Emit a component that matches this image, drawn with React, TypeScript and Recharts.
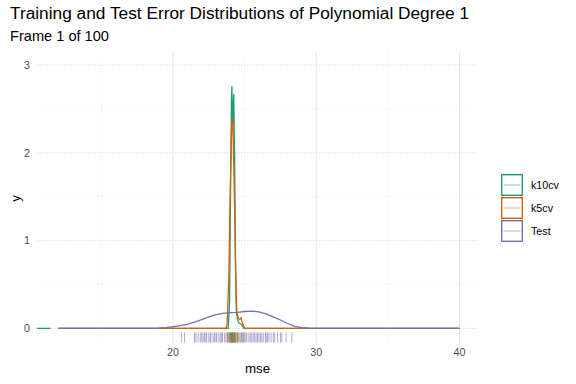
import React from "react";
import {
  ComposedChart,
  Line,
  Scatter,
  XAxis,
  YAxis,
  ReferenceLine,
  Legend,
} from "recharts";

// density curves: [mse, density]
const k10cvDensity: [number, number | null][] = [
  [10.5, 0], [11.45, 0], [11.5, null], [12, 0], [23.85, 0], [23.95, 0.3],
  [24.02, 1.6], [24.08, 2.6], [24.11, 2.76], [24.16, 2.3], [24.2, 2.45],
  [24.24, 2.67], [24.3, 2.0], [24.36, 0.8], [24.42, 0.2], [24.5, 0.1],
  [24.6, 0.06], [24.75, 0.05], [24.85, 0.03], [24.95, 0], [40, 0],
];

const k5cvDensity: [number, number][] = [
  [12, 0], [23.7, 0], [23.78, 0.05], [23.9, 0.6], [24.0, 1.6], [24.1, 2.3],
  [24.15, 2.41], [24.2, 2.2], [24.3, 1.4], [24.38, 0.6], [24.45, 0.2],
  [24.55, 0.12], [24.65, 0.1], [24.75, 0.12], [24.85, 0.06], [25.0, 0], [40, 0],
];

const testDensity: [number, number][] = [
  [12, 0], [18.5, 0], [19, 0.002], [19.5, 0.008], [20, 0.018], [20.5, 0.03],
  [21, 0.045], [21.5, 0.07], [22, 0.1], [22.5, 0.13], [23, 0.155],
  [23.5, 0.17], [24, 0.178], [24.5, 0.183], [25, 0.192], [25.5, 0.197],
  [26, 0.188], [26.5, 0.165], [27, 0.13], [27.5, 0.095], [28, 0.055],
  [28.5, 0.022], [29, 0.008], [29.5, 0.002], [30, 0], [40, 0],
];

// rug values (individual mse observations)
const testRug = [
  20.6, 20.8, 21.5, 21.6, 21.75, 21.9, 22.0, 22.1, 22.2, 22.3, 22.35, 22.5,
  22.6, 22.65, 22.8, 22.9, 23.0, 23.05, 23.2, 23.3, 23.4, 23.45, 23.6, 23.7,
  23.8, 23.9, 24.0, 24.1, 24.2, 24.3, 24.4, 24.5, 24.6, 24.7, 24.8, 24.9,
  25.0, 25.1, 25.15, 25.3, 25.4, 25.5, 25.6, 25.7, 25.8, 25.9, 26.0, 26.1,
  26.2, 26.3, 26.45, 26.5, 26.6, 26.7, 26.85, 27.0, 27.1, 27.3, 27.5, 27.6,
  27.9, 28.3,
];
const k10cvRug = [23.9, 24.0, 24.05, 24.1, 24.12, 24.15, 24.2, 24.25, 24.3, 24.35, 24.5, 24.8];
const k5cvRug = [23.8, 23.95, 24.05, 24.1, 24.15, 24.2, 24.3, 24.4, 24.6, 24.9];

const xMajor = [20, 30, 40];
const xMinor = [15, 25, 35];
const yMajor = [0, 1, 2, 3];
const yMinor = [0.5, 1.5, 2.5];

const series = [
  { name: "k10cv", color: "#1B9E77", density: k10cvDensity, rug: k10cvRug },
  { name: "k5cv", color: "#D95F02", density: k5cvDensity, rug: k5cvRug },
  { name: "Test", color: "#7570B3", density: testDensity, rug: testRug },
];

const Y_MIN = -0.19;
const FONT = '"Liberation Sans", Arial, Helvetica, sans-serif';

const toPoints = (d: [number, number | null][]) => d.map(([x, y]) => ({ x, y }));

const rugShape = (color: string) => (props: any) => (
  <line
    x1={props.cx}
    x2={props.cx}
    y1={props.cy - 12.5}
    y2={props.cy - 2.5}
    stroke={color}
    strokeOpacity={0.6}
    strokeWidth={1}
  />
);

function LegendContent() {
  return (
    <div style={{ fontFamily: FONT, fontSize: 10.7, color: "#000" }}>
      {series.map((s) => (
        <div key={s.name} style={{ display: "flex", alignItems: "center", height: 23.3 }}>
          <svg width={22} height={22} style={{ display: "block" }}>
            <rect x={0.7} y={0.7} width={20.6} height={20.6} fill="#fff" stroke={s.color} strokeWidth={1.4} />
            <line x1={2.5} x2={19.5} y1={11} y2={11} stroke={s.color} strokeOpacity={0.55} strokeWidth={1} />
          </svg>
          <span style={{ marginLeft: 8 }}>{s.name}</span>
        </div>
      ))}
    </div>
  );
}

export default function App() {
  return (
    <div style={{ position: "relative", width: 576, height: 384, background: "#fff", fontFamily: FONT }}>
      <style>{"body{margin:0}"}</style>
      <div style={{ position: "absolute", left: 10, top: 3, fontSize: 17.3, color: "#000", whiteSpace: "nowrap" }}>
        Training and Test Error Distributions of Polynomial Degree 1
      </div>
      <div style={{ position: "absolute", left: 10, top: 28, fontSize: 14.6, color: "#000", whiteSpace: "nowrap" }}>
        Frame 1 of 100
      </div>
      <ComposedChart width={576} height={384} margin={{ top: 52, right: 98, bottom: 0, left: 0 }}>
        {xMinor.map((v) => (
          <ReferenceLine key={"xm" + v} x={v} stroke="#efefef" strokeWidth={0.8} strokeDasharray="2 2" />
        ))}
        {yMinor.map((v) => (
          <ReferenceLine key={"ym" + v} y={v} stroke="#efefef" strokeWidth={0.8} strokeDasharray="2 2" />
        ))}
        {xMajor.map((v) => (
          <ReferenceLine key={"xM" + v} x={v} stroke="#e6e6e6" strokeWidth={1.1} />
        ))}
        {yMajor.map((v) => (
          <ReferenceLine key={"yM" + v} y={v} stroke="#e8e8e8" strokeWidth={1.1} strokeDasharray="2 1" />
        ))}
        <XAxis
          type="number"
          dataKey="x"
          domain={[10.5, 41.3]}
          ticks={xMajor}
          allowDataOverflow
          axisLine={false}
          tickLine={false}
          tickSize={0}
          tickMargin={3}
          height={39}
          tick={{ fill: "#4d4d4d", fontSize: 10.7, fontFamily: FONT }}
          label={{ value: "mse", position: "insideBottom", offset: 11, fill: "#000", fontSize: 13.3, fontFamily: FONT }}
        />
        <YAxis
          type="number"
          dataKey="y"
          domain={[Y_MIN, 3.15]}
          ticks={yMajor}
          allowDataOverflow
          axisLine={false}
          tickLine={false}
          tickSize={0}
          tickMargin={7}
          width={37}
          tick={{ fill: "#4d4d4d", fontSize: 10.7, fontFamily: FONT }}
          label={{ value: "y", angle: -90, position: "insideLeft", offset: 15, fill: "#000", fontSize: 13.3, fontFamily: FONT, style: { textAnchor: "middle" } }}
        />
        {series.map((s) => (
          <Line
            key={s.name}
            data={toPoints(s.density)}
            dataKey="y"
            type="linear"
            stroke={s.color}
            strokeWidth={1.3}
            dot={false}
            activeDot={false}
            connectNulls={false}
            isAnimationActive={false}
            legendType="none"
          />
        ))}
        {[series[2], series[0], series[1]].map((s) => (
          <Scatter
            key={"rug" + s.name}
            data={s.rug.map((x) => ({ x, y: Y_MIN }))}
            dataKey="y"
            shape={rugShape(s.color)}
            isAnimationActive={false}
            legendType="none"
          />
        ))}
        <Legend
          layout="vertical"
          align="center"
          verticalAlign="middle"
          content={LegendContent}
          wrapperStyle={{ position: "absolute", left: 501, top: 173, width: 75 }}
        />
      </ComposedChart>
    </div>
  );
}
